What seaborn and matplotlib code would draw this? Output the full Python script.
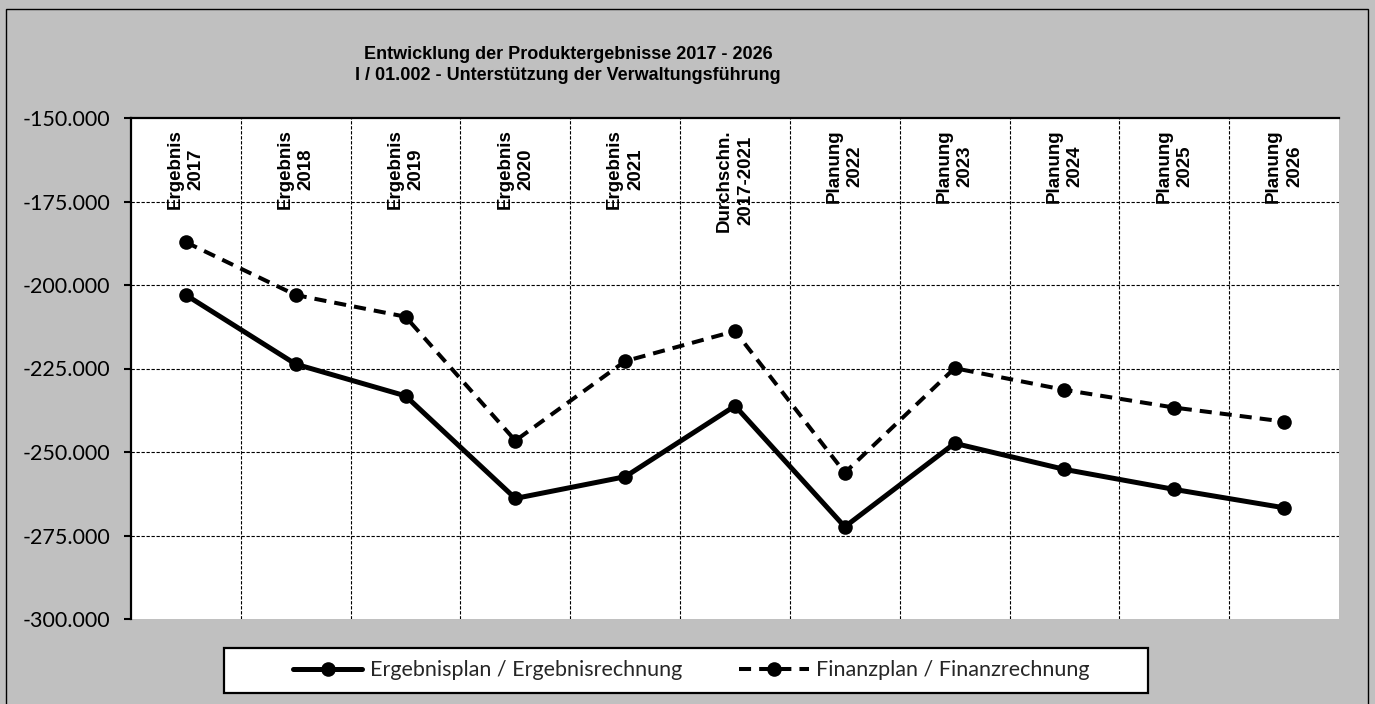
import matplotlib
matplotlib.use("Agg")
import matplotlib.pyplot as plt
from matplotlib.patches import Rectangle
from matplotlib.lines import Line2D
from matplotlib.ticker import FuncFormatter
import seaborn as sns
import pandas as pd

# Categories (two-line labels) and product results per year
categories = [
    "Ergebnis\n2017", "Ergebnis\n2018", "Ergebnis\n2019", "Ergebnis\n2020",
    "Ergebnis\n2021", "Durchschn.\n2017-2021", "Planung\n2022", "Planung\n2023",
    "Planung\n2024", "Planung\n2025", "Planung\n2026",
]
ergebnis = [-203000, -223700, -233200, -263900, -257400, -236200,
            -272400, -247400, -255200, -261200, -266700]
finanz = [-187200, -203000, -209500, -246600, -222800, -213800,
          -256200, -224900, -231400, -236700, -240900]
series_names = ["Ergebnisplan / Ergebnisrechnung", "Finanzplan / Finanzrechnung"]
y_ticks = [-300000, -275000, -250000, -225000, -200000, -175000, -150000]
title = "Entwicklung der Produktergebnisse 2017 - 2026\nI / 01.002 - Unterstützung der Verwaltungsführung"

df = pd.DataFrame({
    "pos": list(range(len(categories))) * 2,
    "wert": ergebnis + finanz,
    "reihe": [series_names[0]] * len(categories) + [series_names[1]] * len(categories),
})

sns.set_theme(style="white")
plt.rcParams["font.family"] = ["Liberation Sans", "DejaVu Sans"]

W, H = 1375, 704
fig = plt.figure(figsize=(W / 100, H / 100), dpi=100)
fig.patch.set_facecolor("#C0C0C0")

# plot area
ax = fig.add_axes([131 / W, 1 - 619 / H, (1339 - 131) / W, (619 - 118) / H])
ax.set_facecolor("white")

solid_kw = dict(color="black", linewidth=3.6, marker="o", markersize=10.5, markeredgewidth=0)
dash_kw = dict(color="black", linewidth=2.9, linestyle=(0, (3, 2)), marker="o",
               markersize=10.5, markeredgewidth=0)

sns.lineplot(data=df[df["reihe"] == series_names[0]], x="pos", y="wert", ax=ax,
             legend=False, **solid_kw)
sns.lineplot(data=df[df["reihe"] == series_names[1]], x="pos", y="wert", ax=ax,
             legend=False, **dash_kw)

ax.set_xlim(-0.5, len(categories) - 0.5)
ax.set_ylim(-300000, -150000)
ax.set_xlabel("")
ax.set_ylabel("")
ax.set_xticks([])
ax.set_yticks(y_ticks)
ax.yaxis.set_major_formatter(FuncFormatter(lambda v, p: f"{int(v):,}".replace(",", ".")))
ax.tick_params(axis="y", direction="out", length=5, width=1.5, color="black",
               labelsize=15.5, labelcolor="black", pad=10, left=True)
for lab in ax.get_yticklabels():
    lab.set_fontfamily("Lato")

# gridlines and category dividers
for v in y_ticks[1:-1]:
    ax.axhline(v, color="black", linewidth=0.8, linestyle=(0, (3, 1.5)), zorder=0.5)
for i in range(1, len(categories)):
    ax.axvline(i - 0.5, color="black", linewidth=0.8, linestyle=(0, (3, 1.5)), zorder=0.5)

for side in ["right", "bottom"]:
    ax.spines[side].set_visible(False)
for side in ["left", "top"]:
    ax.spines[side].set_visible(True)
    ax.spines[side].set_color("black")
    ax.spines[side].set_linewidth(1.6)

# category labels along the top of the plot area
trans = ax.get_xaxis_transform()
for i, cat in enumerate(categories):
    ax.text(i, 0.978, cat, transform=trans, rotation=90, ha="center", va="top",
            multialignment="center", fontsize=13.5, fontweight="bold",
            linespacing=1.3, color="black", zorder=1)

fig.text(568 / W, 1 - 65 / H, title, ha="center", va="center", fontsize=13,
         fontweight="bold", linespacing=1.35, color="black")

# legend box
fig.patches.append(Rectangle((224 / W, 1 - 693 / H), (1148 - 224) / W, 45 / H,
                             transform=fig.transFigure, facecolor="white",
                             edgecolor="black", linewidth=1.6, zorder=1))
handles = [Line2D([], [], **solid_kw), Line2D([], [], **dash_kw)]
leg = fig.legend(handles, series_names, loc="center", bbox_to_anchor=(691 / W, 1 - 670.5 / H),
                 ncol=2, frameon=False, handlelength=3.25, handletextpad=0.33,
                 columnspacing=2.65, numpoints=1, prop={"family": "Lato", "size": 15.5})
leg.set_zorder(2)

# outer chart border
fig.patches.append(Rectangle((6 / W, -0.01), (1368 - 6) / W, 1 - 9 / H + 0.01,
                             transform=fig.transFigure, facecolor="none",
                             edgecolor="black", linewidth=1.0, zorder=0))

fig.savefig("out.png", dpi=100, facecolor=fig.get_facecolor())
